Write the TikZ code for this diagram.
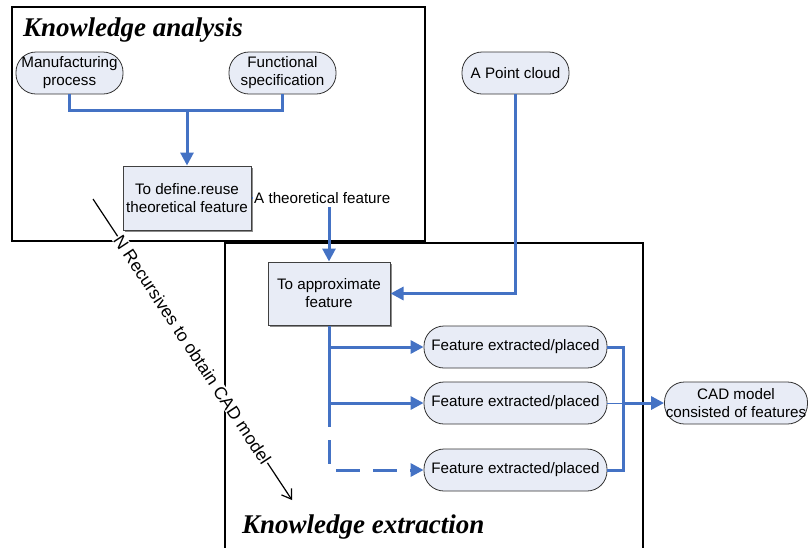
\documentclass[tikz,border=0pt]{standalone}
\usepackage{fontspec}
\setmainfont{Liberation Sans}
\newfontfamily\titlefont{Liberation Serif}
\usetikzlibrary{arrows.meta,shadows}
\definecolor{fl}{RGB}{232,236,246}
\definecolor{bl}{RGB}{68,114,196}
\begin{document}
\begin{tikzpicture}[x=1pt,y=-1pt,
  every node/.style={font=\fontsize{15.2}{18}\selectfont},
  pill/.style={draw=black!80, line width=0.8pt, fill=fl, rounded corners=20pt, minimum height=42pt, align=center, inner sep=1pt},
  procbox/.style={draw=black!75, line width=1pt, fill=fl, align=center, inner sep=1pt,
    drop shadow={shadow xshift=1.5pt, shadow yshift=-1.5pt, fill=black!45, opacity=1}},
  flow/.style={draw=bl, line width=3pt},
  arr/.style={flow, -{Triangle[width=13pt,length=13pt]}},
  frame/.style={draw=black, line width=2pt},
  title/.style={font=\titlefont\bfseries\itshape\fontsize{27}{30}\selectfont, anchor=base west, inner sep=0pt}]
\useasboundingbox (0,0) rectangle (808,547);

% frames
\draw[frame] (12,7) rectangle (425,241);
\draw[frame] (225,548) -- (225,243) -- (643,243) -- (643,548);
\node[title] (t1) at (23,36) {Knowledge analysis};
\node[title] (t2) at (242,533) {Knowledge extraction};

% diagonal recursion arrow
\coordinate (ds) at (93,199);
\coordinate (de) at (292,500);
\draw[black, line width=1.2pt, -{Straight Barb[length=9pt,width=12pt]}] (ds) -- (de)
  node[midway, sloped, fill=white, inner sep=0.5pt, font=\fontsize{17.5}{20}\selectfont] (rec) {N Recursives to obtain CAD model};

% nodes
\node[pill, minimum width=107pt] (mp) at (69.5,73) {Manufacturing\\process};
\node[pill, minimum width=107pt] (fs) at (282.5,73) {Functional\\specification};
\node[pill, minimum width=107pt] (pc) at (515.5,73) {A Point cloud};
\node[procbox, minimum width=128pt, minimum height=64pt] (def) at (187,198) {To define.reuse\\theoretical feature};
\node[anchor=west, inner sep=1pt] (thl) at (253,198) {A theoretical feature};
\node[procbox, minimum width=122pt, minimum height=63pt] (app) at (329,293.5) {To approximate\\feature};
\node[pill, minimum width=183pt] (f1) at (515.5,347) {Feature extracted/placed};
\node[pill, minimum width=183pt] (f2) at (515.5,403) {Feature extracted/placed};
\node[pill, minimum width=183pt] (f3) at (515.5,470) {Feature extracted/placed};
\node[pill, minimum width=143pt] (cad) at (736,403) {CAD model\\consisted of features};

% connectors in knowledge analysis
\coordinate (join) at (187,110);
\draw[flow] (mp.south) |- (join) -| (fs.south);
\draw[arr] (join) -- (def.north);
\draw[bl, line width=1.5pt] (def.east) -- (thl.west);
\coordinate (ts) at (329,207);
\draw[arr] (ts) -- (app.north);
\draw[arr] (pc.south) |- (app.east);

% branches
\coordinate (bend) at (329,427);
\draw[flow] (app.south) -- (bend);
\draw[arr] (app.south |- f1.west) -- (f1.west);
\draw[arr] (app.south |- f2.west) -- (f2.west);
\draw[arr, dash pattern=on 24pt off 13pt, dash phase=24pt] (bend) |- (f3.west);

% merge
\coordinate (rx) at (623,403);
\draw[flow] (f1.east) -| (rx) |- (f3.east);
\draw[bl, line width=1pt] (f2.east) -- (rx);
\draw[arr] (rx) -- (cad.west);
\end{tikzpicture}
\end{document}
